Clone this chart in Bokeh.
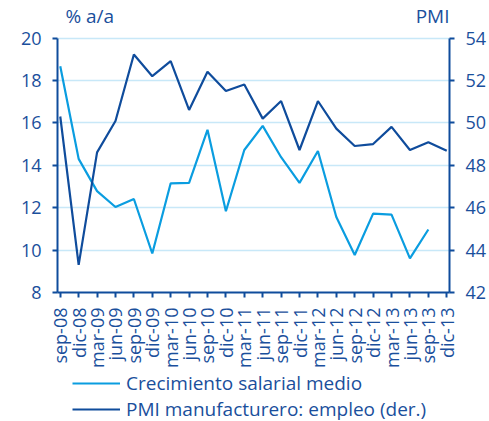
from bokeh.plotting import figure
from bokeh.layouts import column
from bokeh.models import Range1d, LinearAxis, FixedTicker, Label, Legend, LegendItem
from bokeh.embed import file_html
from bokeh.resources import INLINE

quarters = ["sep-08", "dic-08", "mar-09", "jun-09", "sep-09", "dic-09", "mar-10", "jun-10",
            "sep-10", "dic-10", "mar-11", "jun-11", "sep-11", "dic-11", "mar-12", "jun-12",
            "sep-12", "dic-12", "mar-13", "jun-13", "sep-13", "dic-13"]
salarial = [18.67, 14.3, 12.78, 12.03, 12.41, 9.84, 13.15, 13.17, 15.67, 11.83, 14.72,
            15.86, 14.38, 13.17, 14.67, 11.56, 9.77, 11.72, 11.67, 9.61, 10.97]
pmi = [50.30, 43.30, 48.61, 50.09, 53.22, 52.20, 52.91, 50.61, 52.41, 51.50, 51.81,
       50.20, 51.03, 48.72, 51.03, 49.73, 48.91, 49.00, 49.81, 48.72, 49.09, 48.69]
left_ticks = [8, 10, 12, 14, 16, 18, 20]
right_ticks = [42, 44, 46, 48, 50, 52, 54]
series_names = ["Crecimiento salarial medio", "PMI manufacturero: empleo (der.)"]

FONT = "Open Sans"
DARK = "#0f4c9c"
LIGHT = "#0a9de0"
TXT = "#1a4f9c"
GRID = "#c8e8f8"

HEAD = 1.77  # extra room above the top tick, in axis units, for the unit labels

xs_s = list(range(len(salarial)))
xs_p = list(range(len(pmi)))

p = figure(width=489, height=370, output_backend="svg", toolbar_location=None,
           x_range=Range1d(-0.15, len(quarters) - 1 + 0.15),
           y_range=Range1d(left_ticks[0], left_ticks[-1] + HEAD),
           min_border_left=57, min_border_right=36, min_border_top=0, min_border_bottom=0)
p.extra_y_ranges = {"pmi": Range1d(right_ticks[0], right_ticks[-1] + HEAD)}
p.outline_line_color = None
p.background_fill_color = "white"
p.border_fill_color = "white"
p.xgrid.grid_line_color = None
p.ygrid.grid_line_color = GRID
p.ygrid.grid_line_width = 1.5
p.ygrid.ticker = FixedTicker(ticks=left_ticks)

p.line(xs_s, salarial, line_color=LIGHT, line_width=2.2)
p.line(xs_p, pmi, line_color=DARK, line_width=2.2, y_range_name="pmi")

right = LinearAxis(y_range_name="pmi")
p.add_layout(right, "right")

p.yaxis[0].ticker = FixedTicker(ticks=left_ticks)
p.yaxis[0].bounds = (left_ticks[0], left_ticks[-1])
right.ticker = FixedTicker(ticks=right_ticks)
right.bounds = (right_ticks[0], right_ticks[-1])
p.xaxis.ticker = FixedTicker(ticks=list(range(len(quarters))))
p.xaxis.major_label_overrides = {i: q for i, q in enumerate(quarters)}
p.xaxis.major_label_orientation = 1.5708

for ax in [p.xaxis[0], p.yaxis[0], right]:
    ax.axis_line_color = DARK
    ax.axis_line_width = 2
    ax.major_tick_line_color = DARK
    ax.major_tick_line_width = 2
    ax.major_tick_out = 5
    ax.major_tick_in = 0
    ax.minor_tick_line_color = None
    ax.major_label_text_color = TXT
    ax.major_label_text_font = FONT
    ax.major_label_text_font_size = "18px"
p.xaxis.major_label_standoff = 10
p.yaxis[0].major_label_standoff = 11
right.major_label_standoff = 11

p.add_layout(Label(x=0.28, y=left_ticks[-1] + 1.03, text="% a/a", text_font=FONT,
                   text_font_size="19px", text_color=TXT, text_baseline="middle",
                   text_align="left"))
p.add_layout(Label(x=len(quarters) - 1 + 0.15, y=left_ticks[-1] + 1.03, text="PMI",
                   text_font=FONT, text_font_size="19px", text_color=TXT,
                   text_baseline="middle", text_align="right"))

# legend strip below the chart (proxy renderers carry only the line styles)
q = figure(width=489, height=51, output_backend="svg", toolbar_location=None,
           x_axis_type=None, y_axis_type=None,
           min_border_left=57, min_border_right=36, min_border_top=0, min_border_bottom=0,
           x_range=Range1d(0, 1), y_range=Range1d(0, 1))
q.outline_line_color = None
q.grid.grid_line_color = None
nan = float("nan")
q1 = q.line([nan], [nan], line_color=LIGHT, line_width=2.2)
q2 = q.line([nan], [nan], line_color=DARK, line_width=2.2)
legend = Legend(items=[LegendItem(label=series_names[0], renderers=[q1]),
                       LegendItem(label=series_names[1], renderers=[q2])],
                orientation="vertical", location=(15, -1),
                label_text_font=FONT, label_text_font_size="19px", label_text_color=TXT,
                glyph_width=48, glyph_height=20, label_height=20, spacing=0,
                label_standoff=6, padding=0, margin=0,
                border_line_color=None, background_fill_alpha=0)
q.add_layout(legend, "center")

open("out.html", "w").write(file_html(column(p, q, spacing=0), INLINE))
